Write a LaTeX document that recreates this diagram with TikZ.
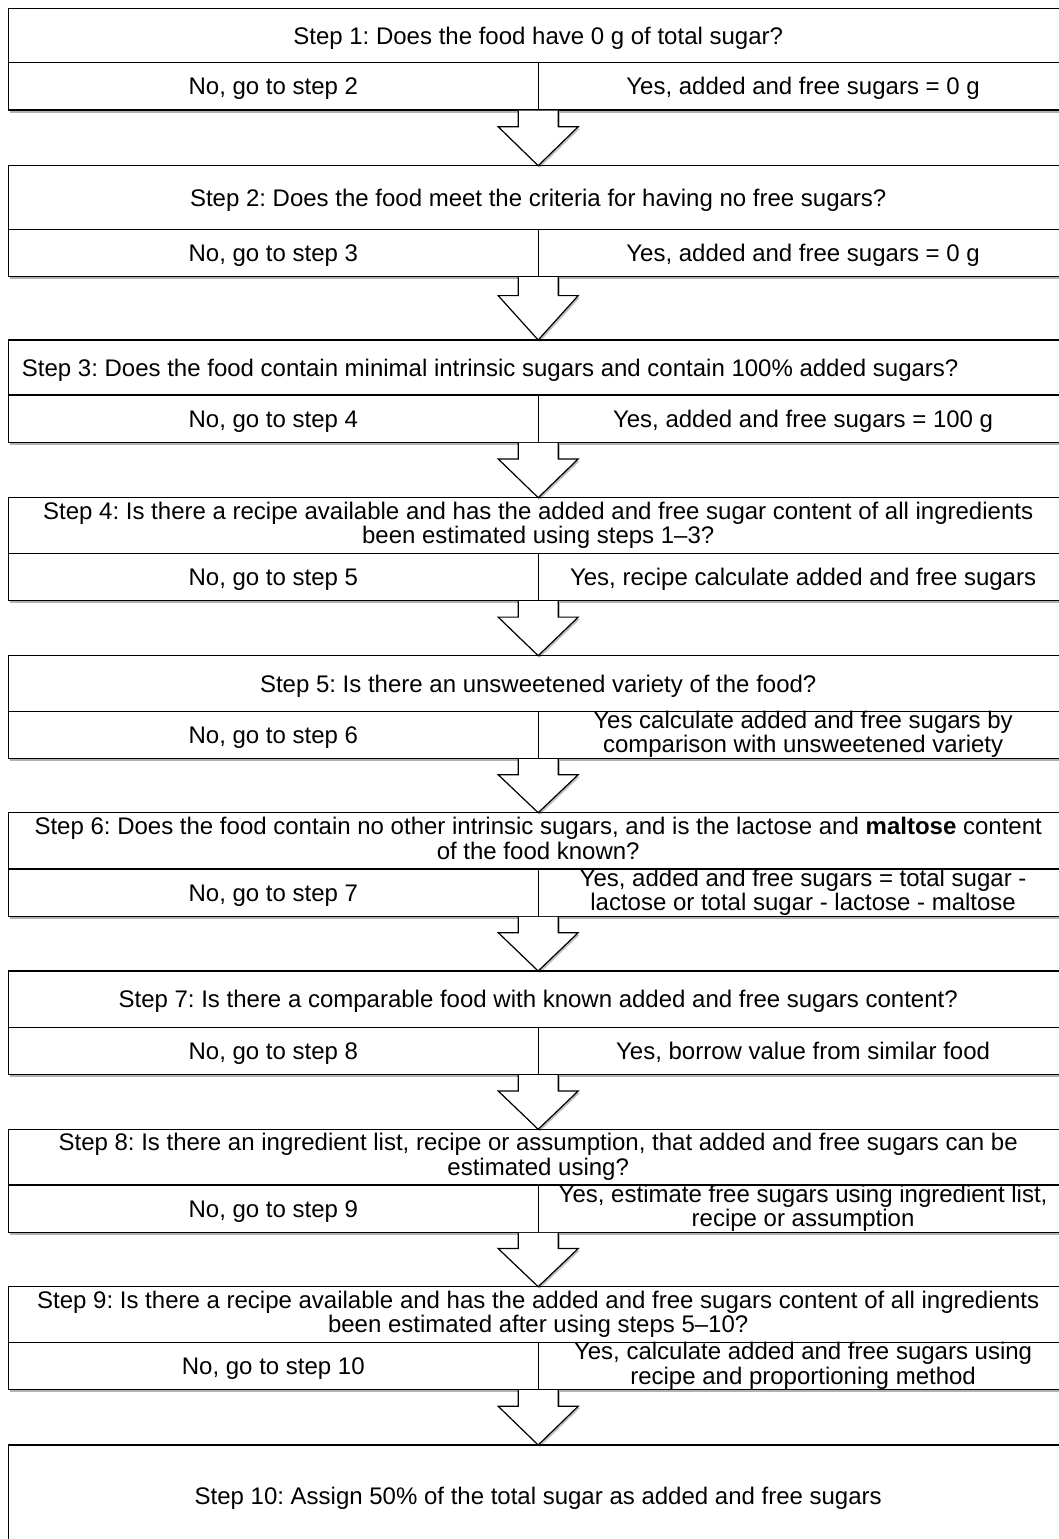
\documentclass[tikz,border=0pt]{standalone}
\usepackage{fontspec}
\setmainfont{Liberation Sans}
\frenchspacing
\usetikzlibrary{calc,shadows}

% strut that keeps the capitals of a line centred in its cell
\newcommand{\sugarstrut}{\rule[-2.7pt]{0pt}{14pt}}

\tikzset{
  cell/.style={draw, line width=0.6pt, fill=white, anchor=north west, outer sep=0pt,
    align=center, inner xsep=1pt, inner ysep=0pt, font=\fontsize{12}{12.2}\selectfont,
    execute at begin node=\sugarstrut, execute at end node=\sugarstrut,
    drop shadow={shadow xshift=0.6pt, shadow yshift=-1.4pt, opacity=0.3, fill=black}},
  question/.style={cell, minimum width=529.8pt},
  answer/.style={cell, minimum width=264.9pt, minimum height=23.65pt},
  blockarrow/.style={draw, line width=0.6pt, fill=white, line join=miter,
    drop shadow={shadow xshift=0.8pt, shadow yshift=-1pt, opacity=0.25, fill=black}}
}

% block arrow from the foot of one step to the top of the next
\newcommand{\sugararrow}[2]{%
  \draw[blockarrow] ($(#1)+(-10pt,-0.3pt)$) -- ($(#1)!0.3!(#2)+(-10pt,0)$)
    -- ($(#1)!0.3!(#2)+(-20pt,0)$) -- (#2) -- ($(#1)!0.3!(#2)+(20pt,0)$)
    -- ($(#1)!0.3!(#2)+(10pt,0)$) -- ($(#1)+(10pt,-0.3pt)$);}

\begin{document}
\begin{tikzpicture}[x=0.5pt, y=-0.5pt]
  % Page area
  \useasboundingbox (0,0) rectangle (1059,1539);
  \clip (0,0) rectangle (1059,1539);
  \fill[white] (0,0) rectangle (1059,1539);

  % Step 1
  \node[question, minimum height=27.2pt] (q1) at (8.4,8.3) {Step 1: Does the food have 0 g of total sugar?};
  \node[answer] (no1) at (q1.south west) {No, go to step 2};
  \node[answer] (yes1) at (no1.north east) {Yes, added and free sugars = 0 g};

  % Step 2
  \node[question, minimum height=31.8pt] (q2) at (8.4,165.7) {Step 2: Does the food meet the criteria for having no free sugars?};
  \node[answer] (no2) at (q2.south west) {No, go to step 3};
  \node[answer] (yes2) at (no2.north east) {Yes, added and free sugars = 0 g};

  % Step 3
  \node[question, minimum height=27.5pt] (q3) at (8.4,340) {Step 3: Does the food contain minimal intrinsic sugars and contain 100\% added sugars?\hspace*{48pt}};
  \node[answer] (no3) at (q3.south west) {No, go to step 4};
  \node[answer] (yes3) at (no3.north east) {Yes, added and free sugars = 100 g};

  % Step 4
  \node[question, minimum height=27.8pt] (q4) at (8.4,497.7) {Step 4: Is there a recipe available and has the added and free sugar content of all ingredients\\been estimated using steps 1–3?};
  \node[answer] (no4) at (q4.south west) {No, go to step 5};
  \node[answer] (yes4) at (no4.north east) {Yes, recipe calculate added and free sugars};

  % Step 5
  \node[question, minimum height=27.7pt] (q5) at (8.4,655.7) {Step 5: Is there an unsweetened variety of the food?};
  \node[answer] (no5) at (q5.south west) {No, go to step 6};
  \node[answer] (yes5) at (no5.north east) {Yes calculate added and free sugars by\\comparison with unsweetened variety};

  % Step 6
  \node[question, minimum height=28.1pt] (q6) at (8.4,812.7) {Step 6: Does the food contain no other intrinsic sugars, and is the lactose and \textbf{maltose} content\\of the food known?};
  \node[answer] (no6) at (q6.south west) {No, go to step 7};
  \node[answer] (yes6) at (no6.north east) {Yes, added and free sugars = total sugar -\\lactose or total sugar - lactose - maltose};

  % Step 7
  \node[question, minimum height=28.1pt] (q7) at (8.4,971) {Step 7: Is there a comparable food with known added and free sugars content?};
  \node[answer] (no7) at (q7.south west) {No, go to step 8};
  \node[answer] (yes7) at (no7.north east) {Yes, borrow value from similar food};

  % Step 8
  \node[question, minimum height=27.8pt] (q8) at (8.4,1129.3) {Step 8: Is there an ingredient list, recipe or assumption, that added and free sugars can be\\estimated using?};
  \node[answer] (no8) at (q8.south west) {No, go to step 9};
  \node[answer] (yes8) at (no8.north east) {Yes, estimate free sugars using ingredient list,\\recipe or assumption};

  % Step 9
  \node[question, minimum height=27.8pt] (q9) at (8.4,1286.7) {Step 9: Is there a recipe available and has the added and free sugars content of all ingredients\\been estimated after using steps 5–10?};
  \node[answer] (no9) at (q9.south west) {No, go to step 10};
  \node[answer] (yes9) at (no9.north east) {Yes, calculate added and free sugars using\\recipe and proportioning method};

  % Step 10
  \node[question, minimum height=51pt] (q10) at (8.4,1445) {Step 10: Assign 50\% of the total sugar as added and free sugars};

  % Arrows between the steps
  \sugararrow{no1.south east}{q2.north}
  \sugararrow{no2.south east}{q3.north}
  \sugararrow{no3.south east}{q4.north}
  \sugararrow{no4.south east}{q5.north}
  \sugararrow{no5.south east}{q6.north}
  \sugararrow{no6.south east}{q7.north}
  \sugararrow{no7.south east}{q8.north}
  \sugararrow{no8.south east}{q9.north}
  \sugararrow{no9.south east}{q10.north}
\end{tikzpicture}
\end{document}
